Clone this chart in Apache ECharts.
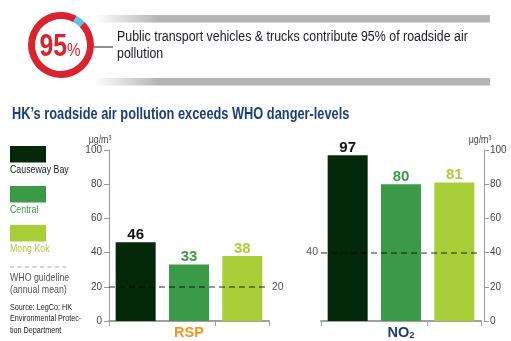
<!DOCTYPE html>
<html><head><meta charset="utf-8">
<script src="https://cdn.jsdelivr.net/npm/echarts@6/dist/echarts.min.js"></script>
<style>html,body{margin:0;padding:0;background:#fff}#c{width:511px;height:341px}</style>
</head><body><div id="c"></div>
<script>
// ---- data ----
const locations = ['Causeway Bay', 'Central', 'Mong Kok'];
const rspValues = [46, 33, 38];
const no2Values = [97, 80, 81];
const rspGuideline = 20;
const no2Guideline = 40;
const donutShare = [95, 5];           // public transport & trucks vs rest
const headline = 'Public transport vehicles & trucks contribute 95% of roadside air\npollution';
const title = "HK\u2019s roadside air pollution exceeds WHO danger-levels";
const pollutants = ['RSP', 'NO2'];
const unitText = '\u03bcg/m\u00b3';
const sourceText = 'Source: LegCo; HK\nEnvironmental Protec-\ntion Department';

// ---- styles ----
const barColors = ['#03280a', '#3a9a48', '#a9cf38'];
const valueLabelColors = ['#111111', '#3a9a48', '#a9cf38'];
const legendTextColors = ['#1a1a1a', '#3a9a48', '#a9cf38'];
const FN = '"Liberation Sans",Arial,sans-serif';
const NARROW = 0.8;

const chart = echarts.init(document.getElementById('c'), null, {renderer: 'canvas'});

function barData(vals) {
  return vals.map((v, i) => ({
    value: v,
    itemStyle: {color: barColors[i]},
    label: {color: valueLabelColors[i]}
  }));
}
function guideLine(val, pos) {
  return {
    silent: true,
    symbol: ['none', 'none'],
    lineStyle: {color: 'rgba(0,0,0,0.42)', type: [6, 4], width: 2},
    label: {show: true, position: pos, color: '#555', fontFamily: FN, fontSize: 10.5, distance: 3},
    data: [{yAxis: val}]
  };
}
function txt(x, y, text, font, fill, extra) {
  return {type: 'text', x: x, y: y, scaleX: NARROW, silent: true,
    style: Object.assign({text: text, font: font, fill: fill, textVerticalAlign: 'middle'}, extra || {})};
}
const valueAxisBase = {
  type: 'value', min: 0, max: 100, interval: 20,
  axisLine: {show: true, lineStyle: {color: '#9a9a9a', width: 1}},
  axisTick: {show: true, length: 5, lineStyle: {color: '#9a9a9a'}},
  splitLine: {show: false},
  axisLabel: {color: '#444', fontFamily: FN, fontSize: 10}
};
const catAxisBase = {
  type: 'category', data: locations,
  axisLine: {lineStyle: {color: '#a0a0a0', width: 2}},
  axisTick: {show: true, length: 5, lineStyle: {color: '#a0a0a0'}},
  axisLabel: {show: false},
  nameLocation: 'middle', nameGap: 4
};
const valueLabel = {show: true, position: 'top', distance: 0, fontFamily: FN, fontSize: 15, fontWeight: 'bold'};

const legendGraphics = [];
const rectYs = [146, 186, 225];
locations.forEach((name, i) => {
  legendGraphics.push({type: 'rect', shape: {x: 10, y: rectYs[i], width: 36, height: 16.5}, style: {fill: barColors[i]}, silent: true});
  legendGraphics.push(txt(10, rectYs[i] + 23.5, name, '11px ' + FN, legendTextColors[i]));
});

const grayGrad = {type: 'linear', x: 0, y: 0, x2: 1, y2: 0, colorStops: [{offset: 0, color: '#ffffff'}, {offset: 0.16, color: '#b4b4b4'}, {offset: 1, color: '#b4b4b4'}]};

chart.setOption({
  animation: false,
  grid: [
    {left: 109, top: 150, width: 160, height: 171, outerBoundsMode: 'none'},
    {left: 321, top: 150, width: 160, height: 171, outerBoundsMode: 'none'}
  ],
  xAxis: [
    Object.assign({}, catAxisBase, {gridIndex: 0, name: pollutants[0],
      nameTextStyle: {color: '#f7941d', fontFamily: FN, fontSize: 14.5, fontWeight: 'bold'}}),
    Object.assign({}, catAxisBase, {gridIndex: 1, name: '{a|NO}{b|2}',
      nameTextStyle: {rich: {
        a: {color: '#1f3b73', fontFamily: FN, fontSize: 14.5, fontWeight: 'bold'},
        b: {color: '#1f3b73', fontFamily: FN, fontSize: 9.5, fontWeight: 'bold', verticalAlign: 'bottom', padding: [5, 0, 0, 0]}
      }}})
  ],
  yAxis: [
    Object.assign({}, valueAxisBase, {gridIndex: 0, position: 'left',
      axisLabel: Object.assign({}, valueAxisBase.axisLabel, {margin: 7})}),
    Object.assign({}, valueAxisBase, {gridIndex: 1, position: 'right', offset: 3,
      axisLabel: Object.assign({}, valueAxisBase.axisLabel, {margin: 6})})
  ],
  series: [
    {type: 'bar', xAxisIndex: 0, yAxisIndex: 0, barWidth: 40, data: barData(rspValues), silent: true,
      label: valueLabel, markLine: guideLine(rspGuideline, 'end')},
    {type: 'bar', xAxisIndex: 1, yAxisIndex: 1, barWidth: 40, data: barData(no2Values), silent: true,
      label: valueLabel, markLine: guideLine(no2Guideline, 'start')},
    {type: 'pie', center: [61, 45], radius: [26, 33], startAngle: 62, silent: true,
      label: {show: false}, labelLine: {show: false},
      data: [
        {value: donutShare[1], itemStyle: {color: '#5bc4ee'}},
        {value: donutShare[0], itemStyle: {color: '#d9232e'}}
      ]}
  ],
  graphic: [
    {type: 'rect', shape: {x: 95, y: 15, width: 395, height: 7.5}, style: {fill: grayGrad}, silent: true},
    {type: 'rect', shape: {x: 95, y: 78, width: 395, height: 7.5}, style: {fill: grayGrad}, silent: true},
    {type: 'line', shape: {x1: 94, y1: 47, x2: 113, y2: 47}, style: {stroke: '#222', lineWidth: 1}, silent: true},
    txt(117, 45, headline, '15.5px ' + FN, '#1b1b2b', {lineHeight: 17.5}),
    txt(67, 47, String(donutShare[0]), 'bold 31px ' + FN, '#d9232e', {textAlign: 'right'}),
    txt(67, 51, '%', '19px ' + FN, '#d9232e', {textAlign: 'left'}),
    txt(12, 115, title, 'bold 16px ' + FN, '#1c3f7c'),
    txt(100, 140, unitText, '11px ' + FN, '#444', {textAlign: 'center'}),
    txt(480, 140, unitText, '11px ' + FN, '#444', {textAlign: 'center'}),
    {type: 'line', shape: {x1: 10, y1: 267, x2: 66, y2: 267}, style: {stroke: '#aaa', lineWidth: 1.2, lineDash: [4, 3.5]}, silent: true},
    txt(10, 284, 'WHO guideline\n(annual mean)', '11px ' + FN, '#555', {lineHeight: 11.5}),
    txt(10, 319, sourceText, '9px ' + FN, '#222', {lineHeight: 11.5})
  ].concat(legendGraphics)
});
</script></body></html>
